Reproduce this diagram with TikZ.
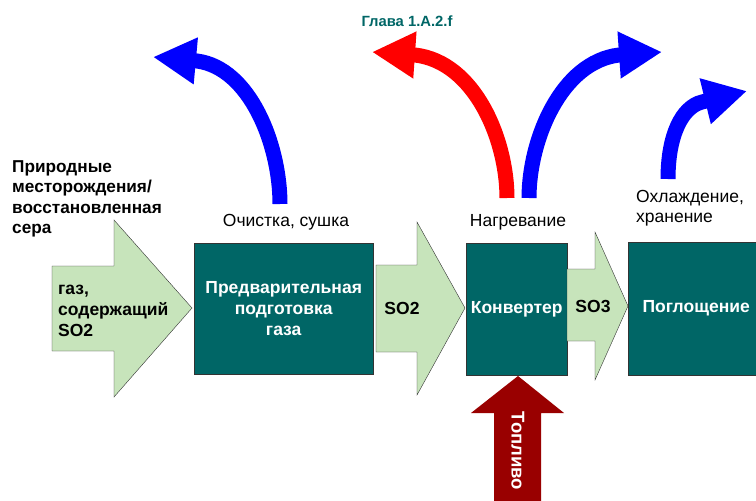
\documentclass[tikz,border=0pt]{standalone}
\usepackage{fontspec}
\setmainfont{Liberation Sans}
\usetikzlibrary{arrows.meta}

\definecolor{unitteal}{RGB}{0,102,102}
\definecolor{flowgreen}{RGB}{199,228,187}
\definecolor{fuelred}{RGB}{153,0,0}

\begin{document}
\begin{tikzpicture}[x=1pt, y=-1pt,
        % styles
        unit/.style = {
                rectangle, draw=black!80, fill=unitteal, text=white,
                font=\bfseries\fontsize{17.5}{21}\selectfont,
                align=center, inner sep=0, anchor=north west
            },
        flow/.style = {
                draw=black!80, fill=flowgreen, line join=miter
            },
        caption/.style = {
                font=\fontsize{17.5}{20}\selectfont, inner sep=0
            },
        gas/.style = {
                font=\bfseries\fontsize{17.5}{21}\selectfont, inner sep=0
            },
        curvearrow/.style = {
                line width=15pt, -{Triangle[length=43pt, width=44pt]}
            }]

    \useasboundingbox (0,0) rectangle (756,501);

    % units
    \node (prep) [unit, minimum width=179pt, minimum height=131pt] at (194,243)
        {Предварительная\\подготовка\\газа};
    \node (conv) [unit, minimum width=101pt, minimum height=132pt] at (466,243)
        {Конвертер};
    \node (absorb) [unit, minimum width=136pt, minimum height=133pt, anchor=north west,
        text width=136pt] at (628,242) {Поглощение};

    % green flows
    \draw [flow] (52,266) -- (114,266) -- (114,220) -- (192,308) -- (114,397)
        -- (114,351) -- (52,351) -- cycle;
    \draw [flow] (376,265) -- (417,265) -- (417,222) -- (465,308) -- (417,395)
        -- (417,352) -- (376,352) -- cycle;
    \draw [flow] (567,269) -- (595,269) -- (595,232) -- (628,306) -- (595,380)
        -- (595,341) -- (567,341) -- cycle;

    \node (feed) [gas, anchor=north west, align=left] at (58,285)
        {газ,\\содержащий\\SO2};
    \node (so2) [gas] at (402,308) {SO2};
    \node (so3) [gas] at (593,306) {SO3};

    % fuel
    \fill [fuelred] (494,505) -- (494,413) -- (471,413) -- (518,376) -- (564,413)
        -- (541,413) -- (541,505) -- cycle;
    \node (fuel) [gas, text=white, rotate=-90, font=\bfseries\fontsize{18.5}{21}\selectfont]
        at (518,451) {Топливо};

    % curved arrows
    \draw [curvearrow, blue] (280,204) .. controls (280,145) and (250,68) .. (197,61) -- (153,57);
    \draw [curvearrow, red] (507,198) .. controls (507,140) and (475,62) .. (415,55) -- (372,52);
    \draw [curvearrow, blue] (529,198) .. controls (529,140) and (561,62) .. (619,55) -- (662,52);
    \draw [curvearrow, blue] (668,179) .. controls (668,135) and (682,107) .. (702,102) -- (747,91);

    % labels
    \node (source) [gas, anchor=north west, align=left, font=\bfseries\fontsize{17.2}{20.5}\selectfont]
        at (12,160) {Природные\\месторождения/\\восстановленная\\сера};
    \node (clean) [caption, anchor=base] at (286,226) {Очистка, сушка};
    \node (heat) [caption, anchor=base] at (518,226) {Нагревание};
    \node (cool) [caption, anchor=north west, align=left] at (636,190.5)
        {Охлаждение,\\хранение};
    \node (ref) [gas, anchor=base, text=unitteal, font=\bfseries\fontsize{14.8}{17}\selectfont]
        at (407,26) {Глава 1.A.2.f};
\end{tikzpicture}
\end{document}
